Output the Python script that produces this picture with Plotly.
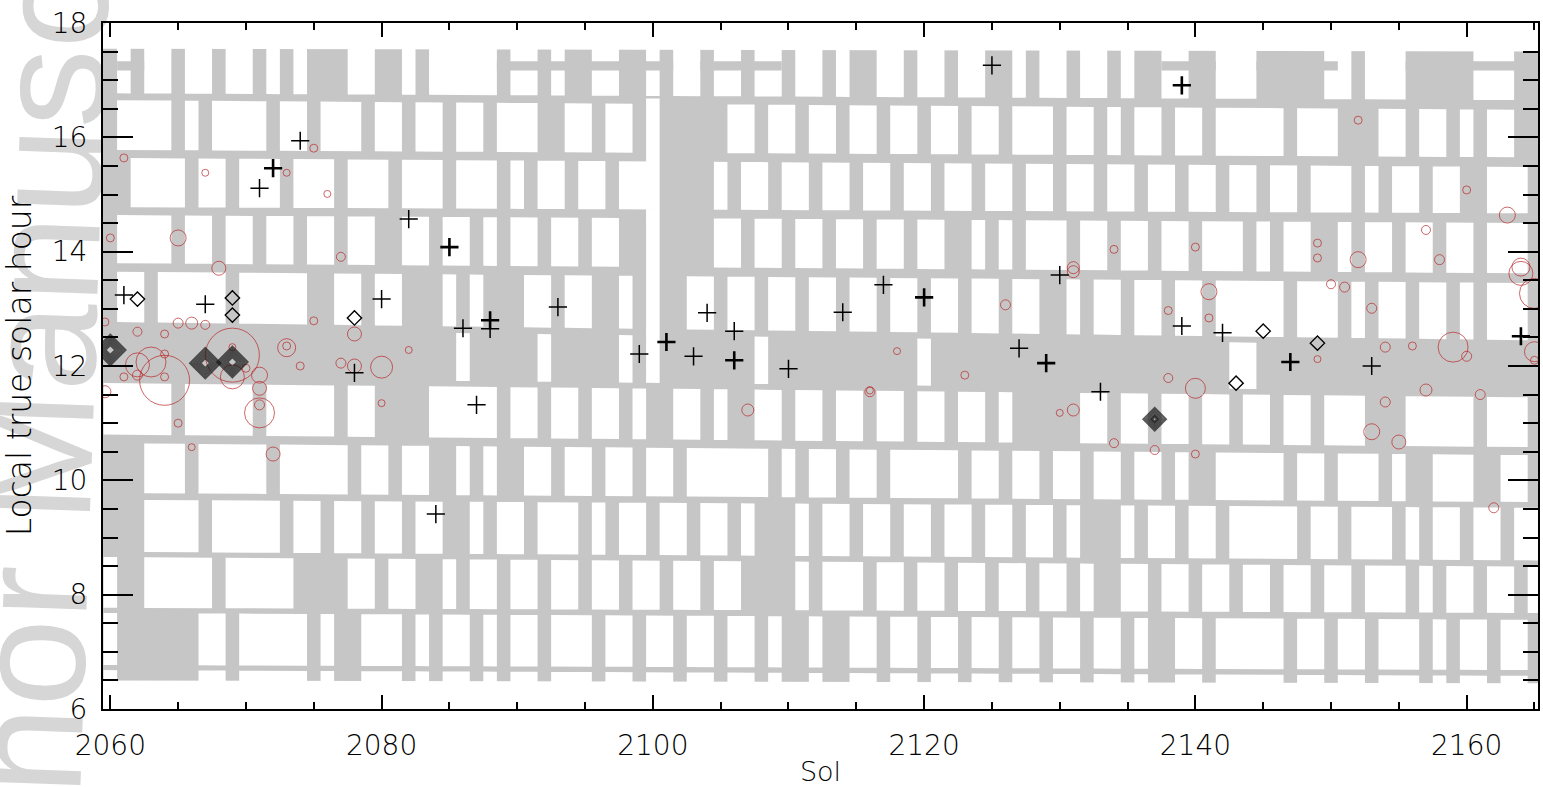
import plotly.graph_objects as go

# ---------------- axis extents ----------------
SOL_FIRST, SOL_LAST = 2060, 2165
x_range = [2059.46, 2165.26]
y_range = [6, 18]
x_ticks = [2060, 2080, 2100, 2120, 2140, 2160]
y_ticks = [6, 8, 10, 12, 14, 16, 18]

# ---------------- coverage map (gray) ----------------
env_sols = [2059.3, 2165.7]
env_bottom = [6.50, 6.45]
env_top = [17.55, 17.50]

row_bottom_left = [6.30, 6.77, 7.77, 8.75, 9.78, 10.80, 11.80, 12.77, 13.80, 14.78, 15.78, 16.77]
row_top_left = [6.68, 7.68, 8.66, 9.66, 10.65, 11.70, 12.65, 13.65, 14.64, 15.64, 16.65, 17.70]
row_bottom_right = [6.30, 6.68, 7.68, 8.60, 9.62, 10.58, 11.55, 12.45, 13.62, 14.67, 15.65, 16.65]
row_top_right = [6.58, 7.56, 8.49, 9.52, 10.44, 11.45, 12.35, 13.45, 14.50, 15.48, 16.48, 17.70]
row_gray = [
    "2061-2066,2069,2075,2077-2078,2082,2084,2087,2089,2092,2096,2099,2102,2105,2108,2110-2111,2113-2114,2117,2120,2123,2126,2129,2132,2135,2137-2138,2141,2147,2150,2153,2157,2159,2162,2165",
    "2061-2066,2069,2075,2077-2078,2082,2084,2087,2089,2092,2096,2099,2102,2105,2108,2110-2111,2113-2114,2117,2120,2123,2126,2129,2132,2135,2137-2138,2141,2147,2150,2153,2157,2159,2162,2165",
    "2061-2062,2068,2074-2077,2080,2083-2084,2086,2089,2092,2095,2098,2101,2104,2107-2110,2112,2116,2119,2122,2125,2128,2131,2133-2134,2137,2140,2143,2146,2149,2152,2156,2158,2161,2164",
    "2060-2062,2067,2073,2076,2079,2082,2085-2086,2088,2091,2095,2097,2100,2103,2106,2108-2110,2112,2115,2118,2121,2124,2127,2130,2132-2134,2136,2139,2142,2148,2151,2155,2157,2160,2163",
    "2060-2062,2066,2072,2078,2081,2084-2085,2087,2089-2090,2093,2096,2099,2102,2109,2111,2114,2117,2123,2126,2129,2132,2135,2138,2140-2141,2147,2150,2154,2156-2157,2161-2162,2165",
    "2065,2071,2077,2080-2083,2089,2092,2095,2098,2100-2101,2104,2106-2107,2110,2113,2116,2119,2122,2125,2127-2131,2134,2137,2140,2143,2146,2149,2153-2155,2161,2165",
    "2060-2085,2087-2091,2093-2097,2099,2101-2107,2109-2119,2121-2142,2145-2165",
    "2060,2063,2069,2075-2076,2079,2082-2084,2086,2088-2090,2093,2096-2097,2099,2101-2102,2105,2108,2111,2114,2117,2120,2123,2126,2129-2130,2132,2135,2138,2141,2147,2151,2153,2156,2159,2161,2165",
    "2060,2065,2068,2071,2074,2077,2080-2081,2084,2087,2089,2092,2095,2098-2099,2101-2104,2107,2110,2113,2116,2119,2122-2123,2125,2127,2131,2134,2137,2140,2144,2146,2149-2150,2152,2155,2158,2161,2165",
    "2060-2061,2066,2069,2073,2077,2081,2085,2089,2091,2094,2097,2101-2104,2106,2109,2112,2115,2118,2121,2124,2127,2130,2133,2136,2139,2142,2145,2148,2152,2154,2157,2160-2161,2165",
    "2060,2065,2067,2072,2075,2079,2082,2085,2088,2092-2093,2096,2099,2101-2105,2108,2111,2114,2117,2120,2123,2126,2130,2133,2135,2138,2141,2147,2151-2153,2156,2159,2161,2164-2165",
    "2060,2062,2065,2068,2071,2073,2075-2077,2080-2081,2083,2089,2092,2094-2095,2098-2099,2101,2104,2107,2110,2113,2115-2116,2119,2122,2125-2126,2128,2131,2134,2136-2137,2140-2141,2145-2149,2152,2156-2160,2164-2165",
]
top_band_start = [2060.5, 2088.5, 2103.5, 2137.5, 2144.5, 2155.5]
top_band_end = [2062.5, 2101.5, 2109.5, 2141.5, 2150.5, 2165.7]
top_band_hours = [17.17, 17.33]
corridor_sols = [2099.5, 2100.5]
corridor_hours = [11.75, 16.68]

# ---------------- observations ----------------
cross_sol = [2061, 2067, 2071, 2072, 2074, 2078, 2080, 2082, 2085, 2086, 2088, 2088, 2087, 2084,
             2093, 2099, 2101, 2103, 2104, 2106, 2106, 2110, 2114, 2117, 2120, 2125, 2130, 2127,
             2129, 2133, 2139, 2139, 2142, 2147, 2153, 2164]
cross_hour = [13.24, 13.08, 15.11, 15.46, 15.94, 11.88, 13.17, 14.57, 14.08, 12.66, 12.80, 12.65, 11.32, 9.41,
              13.03, 12.21, 12.42, 12.17, 12.93, 12.61, 12.10, 11.95, 12.94, 13.42, 13.20, 17.26, 13.59, 12.31,
              12.05, 11.55, 16.91, 12.70, 12.58, 12.07, 12.00, 12.52]
cross_bold = [0, 0, 0, 1, 0, 0, 0, 0, 1, 0, 1, 0, 0, 0,
              0, 0, 1, 0, 0, 0, 1, 0, 0, 0, 1, 0, 0, 0,
              1, 0, 1, 0, 0, 1, 0, 1]

diamond_sol = [2062, 2069, 2069, 2078, 2145, 2149, 2143]
diamond_hour = [13.17, 13.19, 12.89, 12.84, 12.61, 12.40, 11.70]
big_diamond_sol = [2060, 2067, 2069, 2137]
big_diamond_hour = [12.28, 12.05, 12.07, 11.07]
big_diamond_size = [23, 23, 23, 17]

circle_sol = [2061, 2067, 2073, 2075, 2076, 2060, 2065, 2068, 2077, 2075, 2059.6, 2062, 2064, 2065, 2066,
              2067, 2078, 2073, 2073, 2082, 2069, 2069, 2063, 2064, 2062, 2061, 2062, 2064, 2064, 2074,
              2077, 2078, 2080, 2070, 2071, 2071, 2069, 2059.6, 2071, 2071, 2080, 2065, 2066, 2072,
              2126, 2118, 2123, 2116, 2116, 2107,
              2131, 2131, 2134, 2140, 2152, 2160, 2163, 2157, 2149, 2149, 2152, 2158, 2164, 2164, 2165,
              2150, 2151, 2141, 2153, 2138, 2141, 2154, 2156, 2159, 2160, 2149, 2165, 2165, 2138, 2140,
              2157, 2161, 2154, 2130, 2131, 2134, 2137, 2140, 2153, 2155, 2162]
circle_hour = [15.64, 15.38, 15.38, 15.81, 15.01, 14.24, 14.24, 13.71, 13.91, 12.79, 12.77, 12.60, 12.56, 12.75, 12.75,
               12.72, 12.56, 12.32, 12.35, 12.28, 12.33, 12.19, 12.07, 11.75, 12.02, 11.81, 11.84, 12.21, 11.81, 12.00,
               12.05, 12.00, 11.98, 11.96, 11.84, 11.61, 11.81, 11.55, 11.32, 11.18, 11.35, 11.00, 10.58, 10.46,
               13.07, 12.26, 11.84, 11.55, 11.57, 11.23,
               13.65, 13.72, 14.04, 14.08, 16.30, 15.08, 14.64, 14.38, 14.15, 13.89, 13.86, 13.86, 13.73, 13.62, 13.27,
               13.43, 13.38, 13.30, 13.01, 12.97, 12.84, 12.33, 12.35, 12.33, 12.17, 12.12, 12.25, 12.10, 11.79, 11.61,
               11.58, 11.50, 11.37, 11.18, 11.23, 10.65, 10.53, 10.46, 10.85, 10.67, 9.52]
circle_size = [8, 7, 7, 8, 7, 8, 16, 14, 9, 8, 8, 9, 8, 10, 12,
               9, 14, 18, 8, 7, 7, 54, 30, 50, 24, 8, 10, 8, 8, 8,
               10, 14, 22, 8, 16, 14, 24, 12, 10, 30, 7, 8, 7, 14,
               10, 7, 8, 10, 7, 12,
               12, 12, 8, 8, 8, 8, 16, 9, 8, 8, 16, 10, 18, 24, 30,
               9, 10, 16, 10, 8, 8, 10, 8, 30, 10, 7, 20, 8, 9, 20,
               12, 10, 10, 7, 12, 9, 9, 8, 16, 14, 10]

# ---------------- styling ----------------
GRAY = "#c6c6c6"
RED = "#b8282a"
INK = "#000000"
FONT = "DejaVu Sans"


def parse_sols(spec):
    out = set()
    for part in spec.split(","):
        part = part.strip()
        if not part:
            continue
        if "-" in part:
            a, b = part.split("-")
            out.update(range(int(a), int(b) + 1))
        else:
            out.add(int(part))
    return out


def lerp(a, b, s):
    f = (s - SOL_FIRST) / (SOL_LAST - SOL_FIRST)
    return a + (b - a) * f


fig = go.Figure()

fig.add_trace(go.Scatter(
    x=[env_sols[0], env_sols[1], env_sols[1], env_sols[0], env_sols[0]],
    y=[env_bottom[0], env_bottom[1], env_top[1], env_top[0], env_bottom[0]],
    mode="lines", fill="toself", fillcolor=GRAY, line=dict(width=0, color=GRAY),
    hoverinfo="skip"))

wx, wy = [], []
for i, spec in enumerate(row_gray):
    gray = parse_sols(spec)
    bl, br = row_bottom_left[i], row_bottom_right[i]
    tl, tr = row_top_left[i], row_top_right[i]
    s = SOL_FIRST
    while s <= SOL_LAST:
        if s in gray:
            s += 1
            continue
        s0 = s
        while s <= SOL_LAST and s not in gray:
            s += 1
        xa, xb = s0 - 0.5, s - 0.5
        if s - 1 == SOL_LAST:
            xb = SOL_LAST + 0.7
        wx += [xa, xb, xb, xa, xa, None]
        wy += [lerp(bl, br, xa), lerp(bl, br, xb), lerp(tl, tr, xb), lerp(tl, tr, xa), lerp(bl, br, xa), None]
wx += [corridor_sols[0], corridor_sols[1], corridor_sols[1], corridor_sols[0], corridor_sols[0], None]
wy += [corridor_hours[0], corridor_hours[0], corridor_hours[1], corridor_hours[1], corridor_hours[0], None]
fig.add_trace(go.Scatter(x=wx, y=wy, mode="lines", fill="toself", fillcolor="white",
                         line=dict(width=0, color="white"), hoverinfo="skip"))

bx, by = [], []
for a, b in zip(top_band_start, top_band_end):
    bx += [a, b, b, a, a, None]
    by += [top_band_hours[0], top_band_hours[0], top_band_hours[1], top_band_hours[1], top_band_hours[0], None]
fig.add_trace(go.Scatter(x=bx, y=by, mode="lines", fill="toself", fillcolor=GRAY,
                         line=dict(width=0, color=GRAY), hoverinfo="skip"))

fig.add_trace(go.Scatter(x=circle_sol, y=circle_hour, mode="markers",
                         marker=dict(symbol="circle-open", size=circle_size, color=RED,
                                     line=dict(width=1, color=RED))))

for bold, width in ((0, 1.5), (1, 2.6)):
    xs = [s for s, b in zip(cross_sol, cross_bold) if b == bold]
    ys = [h for h, b in zip(cross_hour, cross_bold) if b == bold]
    fig.add_trace(go.Scatter(x=xs, y=ys, mode="markers",
                             marker=dict(symbol="cross-thin-open", size=13, color="black",
                                         line=dict(width=width, color="black"))))

fig.add_trace(go.Scatter(x=diamond_sol, y=diamond_hour, mode="markers",
                         marker=dict(symbol="diamond-open", size=11, color="black",
                                     line=dict(width=1.4, color="black"))))
for shrink in (0, 5, 10, 15):
    fig.add_trace(go.Scatter(x=big_diamond_sol, y=big_diamond_hour, mode="markers",
                             marker=dict(symbol="diamond-open",
                                         size=[max(s - shrink, 4) for s in big_diamond_size],
                                         color="#151515", line=dict(width=2.4, color="#151515"))))

axis_common = dict(showline=True, linecolor="black", linewidth=2, mirror="ticks",
                   ticks="inside", tickcolor="black", tickwidth=1.6,
                   showgrid=False, zeroline=False,
                   tickfont=dict(family=FONT, size=28, color=INK, weight=300))

fig.update_xaxes(range=x_range, tickvals=x_ticks, ticklen=14, ticklabelstandoff=10,
                 minor=dict(tickvals=list(range(2060, 2166, 5)), ticks="inside", ticklen=7,
                            tickcolor="black", tickwidth=1.6),
                 title=dict(text="Sol", font=dict(family=FONT, size=27, color=INK, weight=300), standoff=2),
                 **axis_common)
fig.update_yaxes(range=y_range, tickvals=y_ticks, ticklen=30, ticklabelstandoff=8,
                 minor=dict(tickvals=[6 + 0.5 * k for k in range(25)], ticks="inside", ticklen=15,
                            tickcolor="black", tickwidth=1.6),
                 title=dict(text="Local true solar hour", font=dict(family=FONT, size=33, color=INK, weight=300),
                            standoff=10),
                 **axis_common)

# watermark behind everything
fig.add_shape(type="rect", xref="paper", yref="paper", x0=-0.079, x1=-0.031, y0=0.02, y1=0.91,
              line=dict(width=0), fillcolor="rgba(0,0,0,0)", layer="below",
              label=dict(text="Author Manuscript", textangle=-88, textposition="middle center",
                         font=dict(family="Liberation Sans", size=158, color="#d6d6d6")))

fig.update_layout(width=1543, height=787, margin=dict(l=103, r=3, t=23, b=78),
                  plot_bgcolor="white", paper_bgcolor="white", showlegend=False)

fig.write_html("out.html")
